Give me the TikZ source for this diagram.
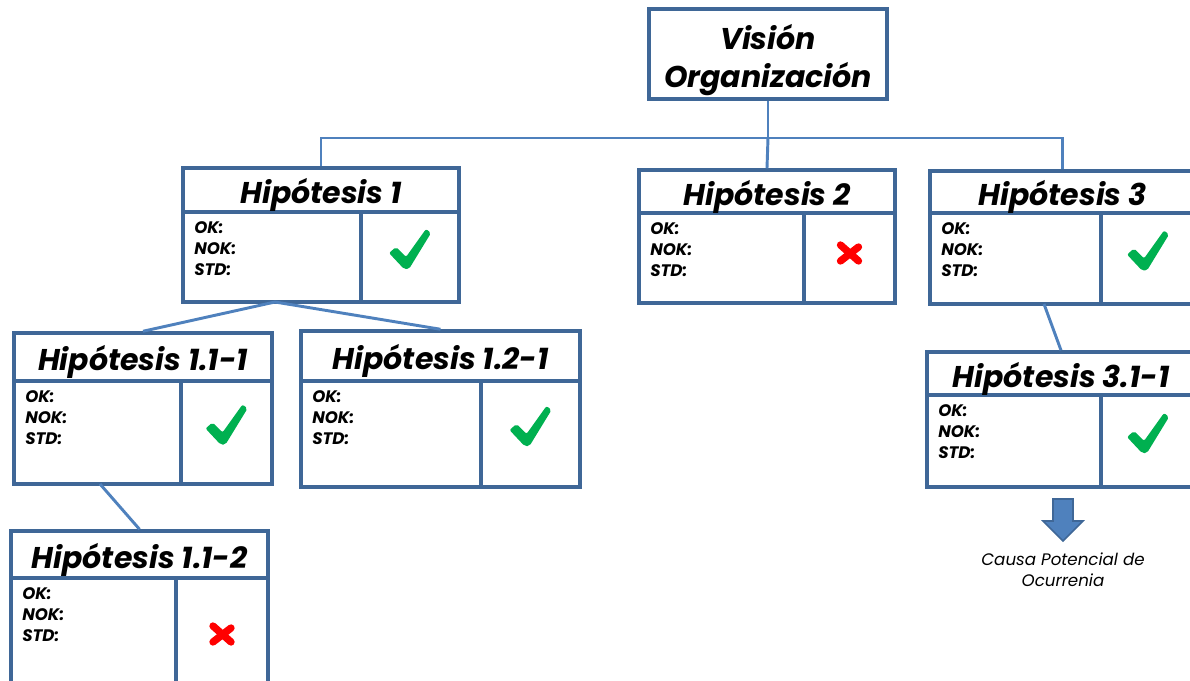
\documentclass[tikz,border=0pt]{standalone}
\usepackage{fontspec}
\setmainfont{Poppins}
\definecolor{boxblue}{HTML}{3F6797}
\definecolor{linkblue}{HTML}{4F81BD}
\definecolor{okgreen}{HTML}{00B050}
\definecolor{nokred}{HTML}{FF0000}

\tikzset{
  hbox/.style={draw=boxblue, line width=2.6pt, inner sep=0pt, fill=white},
  divline/.style={draw=boxblue, line width=2.6pt},
  link/.style={draw=linkblue, line width=2.2pt},
  htitle/.style={font=\bfseries\itshape\fontsize{22.5}{26}\selectfont, inner sep=0pt},
  fields/.style={font=\bfseries\itshape\fontsize{12.5}{16}\selectfont, align=left,
    anchor=north west, inner sep=0pt},
  okmark/.pic={
    \fill[okgreen, rounded corners=1.5pt]
      (-21,1) -- (-14,-5) -- (-4,5) -- (16,-23) -- (21,-19) -- (-1,17) -- (-6,17) -- cycle;
  },
  nokmark/.pic={
    \draw[nokred, line width=5.5pt, line cap=round] (-9,-8) -- (9,8);
    \draw[nokred, line width=5.5pt, line cap=round] (-9,8) -- (9,-6);
  }
}

% #1 name, #2 left, #3 top, #4 right, #5 bottom, #6 title rule, #7 column rule,
% #8 title, #9 verdict pic
\newcommand\hypbox[9]{%
  \node[hbox, minimum width={(#4-#2)*0.75pt}, minimum height={(#5-#3)*0.75pt}]
    (#1) at ({(#2+#4)/2},{(#3+#5)/2}) {};
  \draw[divline] (#2,#6) -- (#4,#6);
  \draw[divline] (#7,#6) -- (#7,#5);
  \node[htitle] (#1-title) at ({(#2+#4)/2},{(#3+#6)/2+5}) {#8};
  \node[fields] (#1-fields) at ({#2+11},{#6+9}) {OK:\\NOK:\\STD:};
  \pic at ({(#7+#4)/2},{(#6+#5)/2-5}) {#9};
}

\begin{document}
\begin{tikzpicture}[x=0.75pt, y=-0.75pt]
  \useasboundingbox (0,0) rectangle (1190,681);

  % top of the tree
  \node[hbox, minimum width={238*0.75pt}, minimum height={90*0.75pt}] (vision) at (768,54) {};
  \node[font=\bfseries\itshape\fontsize{22.5}{28}\selectfont, align=center, inner sep=0pt]
    (vision-title) at (768,60) {Visión\\Organización};

  % hypotheses
  \hypbox{h1}{183}{168}{459}{302}{212}{361}{Hipótesis 1}{okmark}
  \hypbox{h2}{639}{170}{895}{303}{213}{804}{Hipótesis 2}{nokmark}
  \hypbox{h3}{930}{171}{1195}{304}{213}{1101}{Hipótesis 3}{okmark}
  \hypbox{h11}{14}{333}{272}{484}{381}{181}{Hipótesis 1.1-1}{okmark}
  \hypbox{h12}{301}{331}{580}{487}{381}{481}{Hipótesis 1.2-1}{okmark}
  \hypbox{h112}{11}{531}{268}{700}{578}{176}{Hipótesis 1.1-2}{nokmark}
  \hypbox{h31}{927}{352}{1195}{487}{395}{1101}{Hipótesis 3.1-1}{okmark}

  % connectors
  \coordinate (bus) at (768,138);
  \draw[link] (vision.south) -- (bus);
  \draw[link] (h1.north) |- (bus) -| (h3.north);
  \draw[link] (bus) -- (h2.north);
  \coordinate (h1foot) at (275,302);
  \draw[link] (h11.north) -- (h1foot) -- (h12.north);
  \coordinate (h11foot) at (100,484);
  \draw[link] (h11foot) -- (h112.north);
  \coordinate (h3foot) at (1044,304);
  \draw[link] (h3foot) -- (h31.north);

  % outcome arrow and caption
  \fill[linkblue, draw=boxblue, line width=1.2pt, line join=miter]
    (1053,499) -- (1073,499) -- (1073,521) -- (1083,521) -- (1063,541)
    -- (1043,521) -- (1053,521) -- cycle;
  \node[font=\itshape\fontsize{12.5}{16}\selectfont, align=center, inner sep=0pt]
    (cause) at (1063,570) {Causa Potencial de\\Ocurrenia};
\end{tikzpicture}
\end{document}
